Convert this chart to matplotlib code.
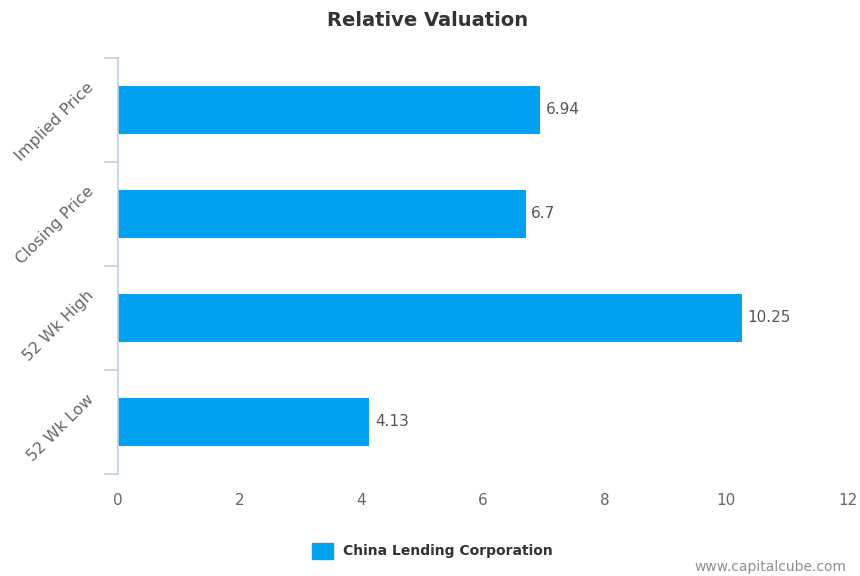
import matplotlib.pyplot as plt
from matplotlib.patches import Rectangle
from matplotlib.transforms import ScaledTranslation

plt.rcParams["font.family"] = ["DejaVu Sans"]

# Chart data
categories = ["Implied Price", "Closing Price", "52 Wk High", "52 Wk Low"]
values = [6.94, 6.7, 10.25, 4.13]
value_labels = ["6.94", "6.7", "10.25", "4.13"]
x_ticks = [0, 2, 4, 6, 8, 10, 12]
series_name = "China Lending Corporation"

bar_color = "#00a1f1"
axis_color = "#c0d0e0"
label_color = "#666666"

fig = plt.figure(figsize=(8.6, 5.76), dpi=100)
ax = fig.add_axes([118 / 860, 1 - 474 / 576, 730 / 860, 416 / 576])

pos = list(range(len(categories)))
ax.barh(pos, values, height=0.47, color=bar_color, zorder=2)
ax.set_ylim(len(categories) - 0.5, -0.5)
ax.set_xlim(0, 12)

# value labels at bar ends
for p, v, t in zip(pos, values, value_labels):
    ax.annotate(t, (v, p), xytext=(4, 0), textcoords="offset points",
                va="center", ha="left", fontsize=11, color="#555555")

# axes styling
for s in ["top", "right", "bottom"]:
    ax.spines[s].set_visible(False)
ax.spines["left"].set_color(axis_color)
ax.spines["left"].set_linewidth(1.2)

ax.set_xticks(x_ticks)
ax.set_xticklabels([str(t) for t in x_ticks])
ax.tick_params(axis="x", length=0, pad=14, labelsize=11, labelcolor=label_color)

# category tick marks at band boundaries, labels at band centres
ax.set_yticks([i - 0.5 for i in range(len(categories) + 1)])
ax.set_yticklabels([])
ax.tick_params(axis="y", which="major", length=10, color=axis_color, width=1.2)
ax.set_yticks(pos, minor=True)
ax.set_yticklabels(categories, minor=True, rotation=45, ha="right",
                   rotation_mode="anchor", fontsize=11.5, color=label_color)
ax.tick_params(axis="y", which="minor", length=0, pad=20)
shift = ScaledTranslation(0, 26 / 100, fig.dpi_scale_trans)
for lab in ax.get_yticklabels(minor=True):
    lab.set_transform(lab.get_transform() + shift)

fig.text(428 / 860, 1 - 20 / 576, "Relative Valuation", ha="center", va="center",
         fontsize=14, fontweight="bold", color="#333333")

# legend
fig.patches.append(Rectangle((312 / 860, 1 - 559 / 576), 21 / 860, 16 / 576,
                             transform=fig.transFigure, color=bar_color))
fig.text(343 / 860, 1 - 551 / 576, series_name, ha="left", va="center",
         fontsize=10, fontweight="bold", color="#333333")

fig.text(846 / 860, 1 - 567 / 576, "www.capitalcube.com", ha="right", va="center",
         fontsize=10, color="#909090")

plt.savefig("out.png", dpi=100)
